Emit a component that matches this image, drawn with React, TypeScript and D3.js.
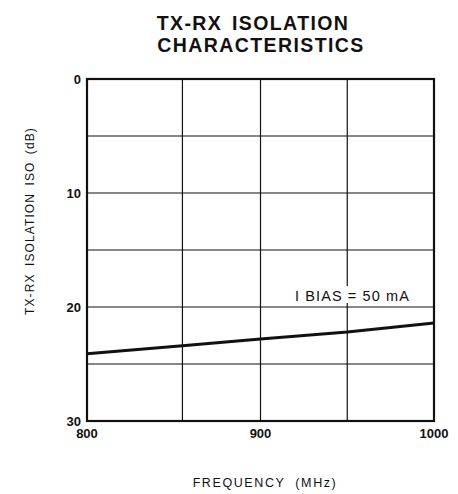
import React from "react";
import * as d3 from "d3";

const freqs = [800, 855, 900, 950, 1000];
const isolation = [24.1, 23.4, 22.8, 22.2, 21.4];
const xTicks = [800, 900, 1000];
const xGrid = [855, 900, 950];
const yTicks = [0, 10, 20, 30];
const yGrid = [5, 10, 15, 20, 25];
const titleLines = ["TX-RX ISOLATION", "CHARACTERISTICS"];
const seriesLabel = "I BIAS = 50 mA";

export default function App() {
  const W = 458, H = 494;
  const left = 87, right = 434, top = 79, bottom = 421;
  const x = d3.scaleLinear().domain([800, 1000]).range([left, right]);
  const y = d3.scaleLinear().domain([0, 30]).range([top, bottom]);
  const line = d3.line<number>().x((_, i) => x(freqs[i])).y((d) => y(d));
  const font = "'Liberation Sans', Arial, Helvetica, sans-serif";
  return (
    <svg width={W} height={H} style={{ position: "absolute", left: 0, top: 0 }}>
      <rect width={W} height={H} fill="#fff" />
      {titleLines.map((t, i) => (
        <text key={t} x={i === 0 ? 253 : 261} y={30 + i * 22} textAnchor="middle"
          fontFamily={font} fontWeight="bold" fontSize={19.5} letterSpacing={1.4} wordSpacing={3} fill="#111">{t}</text>
      ))}
      {xGrid.map((v) => (
        <line key={"xg" + v} x1={x(v)} x2={x(v)} y1={top} y2={bottom} stroke="#111" strokeWidth={1.2} />
      ))}
      {yGrid.map((v) => (
        <line key={"yg" + v} x1={left} x2={right} y1={y(v)} y2={y(v)} stroke="#111" strokeWidth={1.2} />
      ))}
      <rect x={left} y={top} width={right - left} height={bottom - top} fill="none" stroke="#111" strokeWidth={2.2} />
      <rect x={293} y={286} width={123} height={17} fill="#fff" />
      <text x={295} y={301} fontFamily={font} fontSize={14.5} fill="#111" letterSpacing={1.1}>{seriesLabel}</text>
      <path d={line(isolation) || ""} fill="none" stroke="#111" strokeWidth={3} />
      {yTicks.map((v) => (
        <text key={"yt" + v} x={81} y={y(v) + 5} textAnchor="end" fontFamily={font} fontSize={13} fontWeight="bold" fill="#111">{v}</text>
      ))}
      {xTicks.map((v) => (
        <text key={"xt" + v} x={x(v)} y={438} textAnchor="middle" fontFamily={font} fontSize={13} fontWeight="bold" fill="#111">{v}</text>
      ))}
      <text transform={`translate(34, 221) rotate(-90)`} textAnchor="middle" fontFamily={font} fontSize={12} letterSpacing={1.1} wordSpacing={3} fill="#111">TX-RX ISOLATION ISO (dB)</text>
      <text x={265} y={487} textAnchor="middle" fontFamily={font} fontSize={12.5} letterSpacing={1.6} wordSpacing={5} fill="#111">FREQUENCY (MHz)</text>
    </svg>
  );
}
